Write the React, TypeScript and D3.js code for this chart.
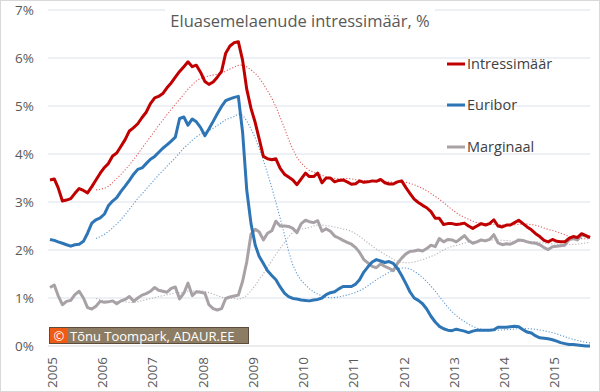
import React, { useEffect, useRef } from "react";
import * as d3 from "d3";

// monthly values, Jan 2005 .. Oct 2015
const intressimaar = [
  3.46, 3.48, 3.3, 3.02, 3.04, 3.07, 3.18, 3.28, 3.24, 3.19, 3.32, 3.46,
  3.6, 3.72, 3.8, 3.96, 4.02, 4.16, 4.3, 4.48, 4.55, 4.63, 4.76, 4.87,
  5.05, 5.17, 5.2, 5.26, 5.38, 5.48, 5.6, 5.72, 5.82, 5.92, 5.82, 5.85,
  5.7, 5.51, 5.45, 5.5, 5.6, 5.72, 6.1, 6.25, 6.32, 6.34, 5.95, 5.35,
  4.95, 4.65, 4.32, 3.95, 3.9, 3.88, 3.9, 3.7, 3.58, 3.52, 3.46, 3.36,
  3.48, 3.6, 3.53, 3.53, 3.6, 3.4, 3.5, 3.5, 3.42, 3.45, 3.46, 3.42,
  3.37, 3.38, 3.44, 3.41, 3.42, 3.44, 3.43, 3.47, 3.4, 3.375, 3.375, 3.42,
  3.44, 3.3, 3.18, 3.06, 2.99, 2.93, 2.88, 2.8, 2.66, 2.66, 2.53, 2.55,
  2.55, 2.53, 2.54, 2.56, 2.5, 2.45, 2.5, 2.55, 2.52, 2.55, 2.63, 2.5,
  2.48, 2.52, 2.52, 2.57, 2.62, 2.55, 2.48, 2.42, 2.34, 2.28, 2.2, 2.17,
  2.22, 2.18, 2.17, 2.17, 2.24, 2.28, 2.26, 2.34, 2.3, 2.26,
];

const euribor = [
  2.22, 2.2, 2.17, 2.14, 2.11, 2.08, 2.11, 2.12, 2.18, 2.35, 2.56, 2.63,
  2.67, 2.75, 2.92, 3.02, 3.09, 3.22, 3.33, 3.45, 3.58, 3.68, 3.71, 3.8,
  3.89, 3.95, 4.03, 4.12, 4.19, 4.27, 4.35, 4.74, 4.77, 4.6, 4.73, 4.67,
  4.55, 4.38, 4.52, 4.68, 4.84, 4.99, 5.11, 5.15, 5.18, 5.2, 4.45, 3.25,
  2.55, 2.1, 1.87, 1.72, 1.57, 1.47, 1.38, 1.23, 1.1, 1.03, 0.99, 0.98,
  0.96, 0.95, 0.94, 0.96, 0.97, 1.0, 1.07, 1.11, 1.13, 1.19, 1.24, 1.24,
  1.24, 1.29, 1.38, 1.54, 1.65, 1.75, 1.8, 1.77, 1.74, 1.76, 1.72, 1.62,
  1.47, 1.3, 1.13, 1.0, 0.95, 0.88, 0.77, 0.62, 0.5, 0.41, 0.36, 0.33,
  0.32, 0.35, 0.33, 0.31, 0.28, 0.31, 0.33, 0.33, 0.33, 0.33, 0.34, 0.39,
  0.39, 0.39, 0.4, 0.41, 0.4, 0.34, 0.29, 0.27, 0.21, 0.17, 0.16, 0.15,
  0.13, 0.1, 0.07, 0.05, 0.03, 0.03, 0.02, 0.01, 0.0, 0.0,
];

const marginaal = [
  1.22, 1.27, 1.05, 0.86, 0.93, 0.95, 1.07, 1.14, 1.0, 0.8, 0.77, 0.83,
  0.93, 0.91, 0.92, 0.94, 0.88, 0.94, 0.97, 1.03, 0.93, 1.0, 1.06, 1.09,
  1.14, 1.22, 1.16, 1.14, 1.12, 1.2, 1.23, 0.98, 1.1, 1.31, 1.05, 1.13,
  1.12, 1.1, 0.86, 0.78, 0.75, 0.78, 0.99, 1.02, 1.04, 1.06, 1.35, 1.75,
  2.33, 2.43, 2.38, 2.21, 2.35, 2.4, 2.6, 2.5, 2.5, 2.49, 2.45, 2.36,
  2.55, 2.62, 2.59, 2.57, 2.61, 2.39, 2.44, 2.39, 2.29, 2.25, 2.2, 2.16,
  2.12, 2.05, 1.95, 1.8, 1.73, 1.66, 1.63, 1.71, 1.66, 1.62, 1.57, 1.72,
  1.83, 1.92, 1.97, 1.98, 2.0, 1.98, 2.03, 2.1, 2.07, 2.24, 2.17, 2.22,
  2.21, 2.17, 2.23, 2.3, 2.2, 2.14, 2.17, 2.21, 2.19, 2.22, 2.32, 2.15,
  2.11, 2.13, 2.12, 2.16, 2.21, 2.2, 2.17, 2.15, 2.14, 2.11, 2.05, 2.01,
  2.07, 2.08, 2.09, 2.1, 2.21, 2.24, 2.21, 2.31, 2.29, 2.27,
];

const years = [2005, 2006, 2007, 2008, 2009, 2010, 2011, 2012, 2013, 2014, 2015];
const yTicks = [0, 1, 2, 3, 4, 5, 6, 7];

const seriesNames = ["Intressimäär", "Euribor", "Marginaal"];
const seriesColors = ["#c00000", "#2e75b6", "#a8a2a6"];
const trendColors = ["#e06060", "#5b9bd5", "#b8b2b6"];

const title = "Eluasemelaenude intressimäär, %";
const credit = "Tõnu Toompark, ADAUR.EE";

const W = 600;
const H = 392;
const FONT = "'Open Sans', 'DejaVu Sans', sans-serif";

function movingAvg(vals: number[], n: number) {
  return vals.map((_, i) =>
    i < n - 1 ? null : d3.mean(vals.slice(i - n + 1, i + 1)) as number
  );
}

export default function App() {
  const ref = useRef<SVGSVGElement>(null);

  useEffect(() => {
    const svg = d3.select(ref.current);
    svg.selectAll("*").remove();

    const months = d3.timeMonth.range(new Date(2005, 0, 1), new Date(2015, 10, 1));
    const x = d3.scaleTime()
      .domain([months[0], months[months.length - 1]])
      .range([50, 590]);
    const y = d3.scaleLinear().domain([0, 7]).range([346, 10]);

    svg.append("rect")
      .attr("x", 0.5).attr("y", 0.5)
      .attr("width", W - 1).attr("height", H - 1)
      .attr("fill", "#fff").attr("stroke", "#d9d9d9");

    // gridlines
    svg.append("g")
      .selectAll("line")
      .data(yTicks.filter((t) => t > 0))
      .join("line")
      .attr("x1", 48).attr("x2", 590)
      .attr("y1", (d) => y(d)).attr("y2", (d) => y(d))
      .attr("stroke", "#dbe3ee").attr("stroke-width", 1);

    svg.append("line")
      .attr("x1", 48).attr("x2", 590)
      .attr("y1", y(0)).attr("y2", y(0))
      .attr("stroke", "#d9d9d9").attr("stroke-width", 1);

    // y labels
    svg.append("g")
      .selectAll("text")
      .data(yTicks)
      .join("text")
      .attr("x", 34).attr("y", (d) => y(d))
      .attr("dy", "0.36em")
      .attr("text-anchor", "end")
      .attr("font-family", FONT).attr("font-size", 13.5)
      .attr("fill", "#595959")
      .text((d) => d + "%");

    // x labels
    svg.append("g")
      .selectAll("text")
      .data(years)
      .join("text")
      .attr("transform", (d) => `translate(${x(new Date(d, 0, 1)) + 2},357) rotate(-90)`)
      .attr("dy", "0.36em")
      .attr("text-anchor", "end")
      .attr("font-family", FONT).attr("font-size", 13.5)
      .attr("fill", "#595959")
      .text((d) => d);

    const allSeries = [intressimaar, euribor, marginaal];
    const line = d3.line<number | null>()
      .defined((d) => d !== null)
      .x((_, i) => x(months[i]))
      .y((d) => y(d as number));

    // moving average trendlines
    allSeries.forEach((s, k) => {
      svg.append("path")
        .datum(movingAvg(s, 12))
        .attr("d", line)
        .attr("fill", "none")
        .attr("stroke", trendColors[k])
        .attr("stroke-width", 1.1)
        .attr("stroke-dasharray", "1.2 1.8");
    });

    // main lines (grey below blue, red on top)
    [2, 1, 0].forEach((k) => {
      svg.append("path")
        .datum(allSeries[k])
        .attr("d", line)
        .attr("fill", "none")
        .attr("stroke", seriesColors[k])
        .attr("stroke-width", 3)
        .attr("stroke-linejoin", "round");
    });

    // title
    svg.append("rect")
      .attr("x", 165).attr("y", 4).attr("width", 270).attr("height", 28)
      .attr("fill", "#fff");
    svg.append("text")
      .attr("x", 300).attr("y", 27)
      .attr("text-anchor", "middle")
      .attr("font-family", FONT).attr("font-size", 16.5)
      .attr("fill", "#595959")
      .text(title);

    // legend
    const legendY = [64, 105, 147];
    seriesNames.forEach((name, k) => {
      svg.append("line")
        .attr("x1", 447).attr("x2", 465)
        .attr("y1", legendY[k]).attr("y2", legendY[k])
        .attr("stroke", seriesColors[k]).attr("stroke-width", 3);
      svg.append("text")
        .attr("x", 467).attr("y", legendY[k])
        .attr("dy", "0.36em")
        .attr("font-family", FONT).attr("font-size", 14.5)
        .attr("fill", "#404040")
        .text(name);
    });

    // credit box
    const cg = svg.append("g");
    cg.append("rect")
      .attr("x", 49.5).attr("y", 327.5).attr("width", 199).attr("height", 16)
      .attr("fill", "#8c7c64").attr("stroke", "#5c4c3c");
    cg.append("rect")
      .attr("x", 50).attr("y", 328).attr("width", 18).attr("height", 15)
      .attr("fill", "#ef5a14");
    cg.append("text")
      .attr("x", 59).attr("y", 336).attr("dy", "0.36em")
      .attr("text-anchor", "middle")
      .attr("font-family", FONT).attr("font-size", 13)
      .attr("fill", "#fff").text("©");
    cg.append("text")
      .attr("x", 70).attr("y", 336).attr("dy", "0.36em")
      .attr("font-family", FONT).attr("font-size", 13)
      .attr("fill", "#fff").text(credit);
  }, []);

  return (
    <svg
      ref={ref}
      width={W}
      height={H}
      style={{ position: "absolute", left: 0, top: 0, display: "block" }}
    />
  );
}
